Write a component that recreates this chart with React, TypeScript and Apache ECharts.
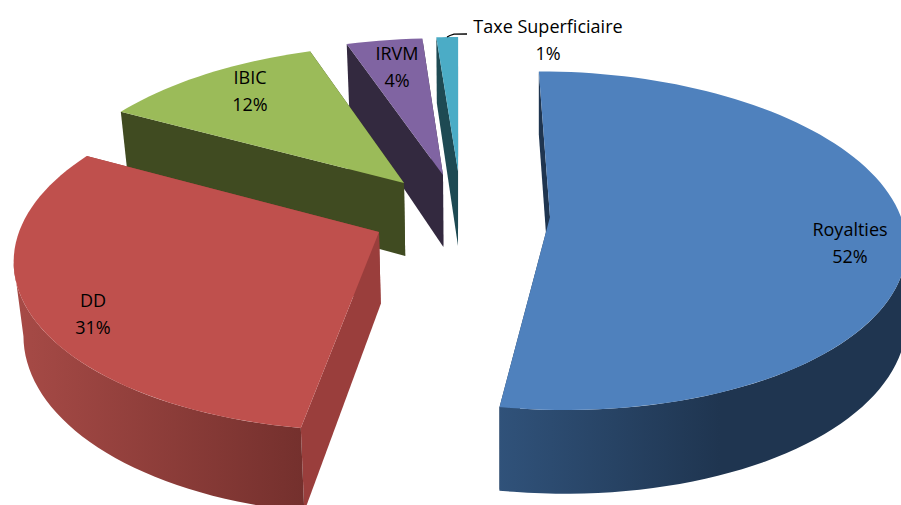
import React, { useEffect, useRef } from "react";
import * as echarts from "echarts";

const categories = ["Royalties", "DD", "IBIC", "IRVM", "Taxe Superficiaire"];
const values = [52, 31, 12, 4, 1];

const topColors = ["#4f81bd", "#bf504d", "#9bbb59", "#8064a2", "#4bacc6"];
const wallColors = ["#1f3550", "#9a3e3c", "#404b21", "#33293f", "#1e4a53"];
const outerStops = [
  ["#30527a", "#1f3550", 498, 720],
  ["#a64a46", "#74302d", 20, 305],
  ["#404b21", "#404b21", 0, 900],
  ["#33293f", "#33293f", 0, 900],
  ["#1e4a53", "#1e4a53", 0, 900],
];

// Projection of the tilted disc
const VANISH_X = 459;
const PERSPECTIVE = 0.14;
const RADIUS_X = 360;
const RADIUS_Y = 166;

// Where every exploded slice sits, with its own fitted scale
const layout = [
  { ax: 550, ay: 217, sx: 0.975, sy: 1, a0: 0, a1: 2, d: 72, shrink: 0, label: [850, 242.5] },
  { ax: 379, ay: 232, sx: 1.0, sy: 1.03, a0: 1.8, a1: -0.5, d: 72, shrink: 0.022, label: [93, 313] },
  { ax: 404, ay: 183, sx: 0.97, sy: 0.95, a0: 0, a1: -1, d: 73, shrink: 0.022, label: [250, 90] },
  { ax: 443, ay: 175, sx: 1, sy: 0.94, a0: 0, a1: -0.5, d: 72, shrink: 0.022, label: [397, 66] },
  { ax: 458, ay: 171, sx: 1.1, sy: 0.92, a0: 0, a1: 0, d: 75, shrink: 0.022, label: [548, 39.5] },
];

const total = values.reduce((a, b) => a + b, 0);

function project(i: number, thetaDeg: number, r: number, z: number): number[] {
  const l = layout[i];
  const t = (thetaDeg * Math.PI) / 180;
  const X = Math.sin(t) * r;
  const Y = Math.cos(t) * r;
  const s = 1 / (1 + PERSPECTIVE * Y);
  let x = l.ax + RADIUS_X * l.sx * X * s + (l.ax - VANISH_X) * (s - 1);
  const y = l.ay - RADIUS_Y * l.sy * Y * s + z * l.d * s;
  x = VANISH_X + (x - VANISH_X) * (1 - z * l.shrink);
  return [x, y];
}

// The near part of the rim: between the rightmost and the leftmost points of the disc
function frontRange(i: number): number[] {
  let right = 0;
  let left = 0;
  let maxX = -Infinity;
  let minX = Infinity;
  for (let a = 0; a < 360; a += 0.5) {
    const x = project(i, a, 1, 0)[0];
    if (x > maxX) {
      maxX = x;
      right = a;
    }
    if (x < minX) {
      minX = x;
      left = a;
    }
  }
  return [right, left];
}

function renderSlice(_params: any, api: any) {
  const i = api.value(0);
  const value = api.value(1);
  let before = 0;
  for (let k = 0; k < i; k++) before += values[k];
  const start = (before / total) * 360 + layout[i].a0;
  const end = ((before + value) / total) * 360 + layout[i].a1;
  const steps = Math.max(4, Math.ceil((end - start) / 2));
  const arcTop: number[][] = [];
  for (let k = 0; k <= steps; k++) {
    arcTop.push(project(i, start + ((end - start) * k) / steps, 1, 0));
  }
  const apexTop = project(i, 0, 0, 0);
  const apexBottom = project(i, 0, 0, 1);
  const startTop = project(i, start, 1, 0);
  const startBottom = project(i, start, 1, 1);
  const endTop = project(i, end, 1, 0);
  const endBottom = project(i, end, 1, 1);
  const o = outerStops[i] as any[];
  const outerFill = {
    type: "linear",
    x: o[2],
    y: 0,
    x2: o[3],
    y2: 0,
    global: true,
    colorStops: [
      { offset: 0, color: o[0] },
      { offset: 1, color: o[1] },
    ],
  };
  const children: any[] = [
    {
      type: "polygon",
      shape: { points: [apexTop, endTop, endBottom, apexBottom] },
      style: { fill: wallColors[i] },
    },
    {
      type: "polygon",
      shape: { points: [apexTop, startTop, startBottom, apexBottom] },
      style: { fill: wallColors[i] },
    },
  ];
  const [right, left] = frontRange(i);
  const from = Math.max(start, right);
  const to = Math.min(end, left);
  if (to > from) {
    const upper: number[][] = [];
    const lower: number[][] = [];
    const n = Math.ceil((to - from) / 2);
    for (let k = 0; k <= n; k++) {
      const a = from + ((to - from) * k) / n;
      upper.push(project(i, a, 1, 0));
      lower.push(project(i, a, 1, 1));
    }
    children.push({
      type: "polygon",
      shape: { points: [...upper, ...lower.reverse()] },
      style: { fill: outerFill },
    });
  }
  children.push({
    type: "polygon",
    shape: { points: [apexTop, ...arcTop] },
    style: { fill: topColors[i] },
  });
  return { type: "group", children };
}

function renderLabel(_params: any, api: any) {
  const i = api.value(0);
  const value = api.value(1);
  const pct = Math.round((value / total) * 100) + "%";
  return {
    type: "text",
    style: {
      text: categories[i] + "\n" + pct,
      x: layout[i].label[0],
      y: layout[i].label[1],
      fill: "#000000",
      fontFamily: "Open Sans",
      fontSize: 18,
      lineHeight: 27,
      align: "center",
      verticalAlign: "middle",
    },
  };
}

export default function App() {
  const ref = useRef<HTMLDivElement>(null);
  useEffect(() => {
    document.body.style.margin = "0";
    const chart = echarts.init(ref.current!, null, { renderer: "svg" });
    const rows = values.map((v, i) => [i, v]);
    chart.setOption({
      animation: false,
      backgroundColor: "#ffffff",
      series: [
        {
          type: "custom",
          coordinateSystem: "none",
          renderItem: renderSlice,
          data: rows.slice().reverse(),
          silent: true,
          z: 1,
        },
        {
          type: "custom",
          coordinateSystem: "none",
          renderItem: renderLabel,
          data: rows,
          silent: true,
          z: 3,
        },
        {
          type: "custom",
          coordinateSystem: "none",
          renderItem: () => ({
            type: "polyline",
            shape: {
              points: [
                [447, 37],
                [450, 35.5],
                [454, 34.2],
                [467, 34],
              ],
            },
            style: { stroke: "#000000", lineWidth: 1.3, fill: "none" },
          }),
          data: [[0]],
          silent: true,
          z: 2,
        },
      ],
    });
    return () => chart.dispose();
  }, []);
  return <div ref={ref} style={{ width: 901, height: 505, overflow: "hidden" }} />;
}
